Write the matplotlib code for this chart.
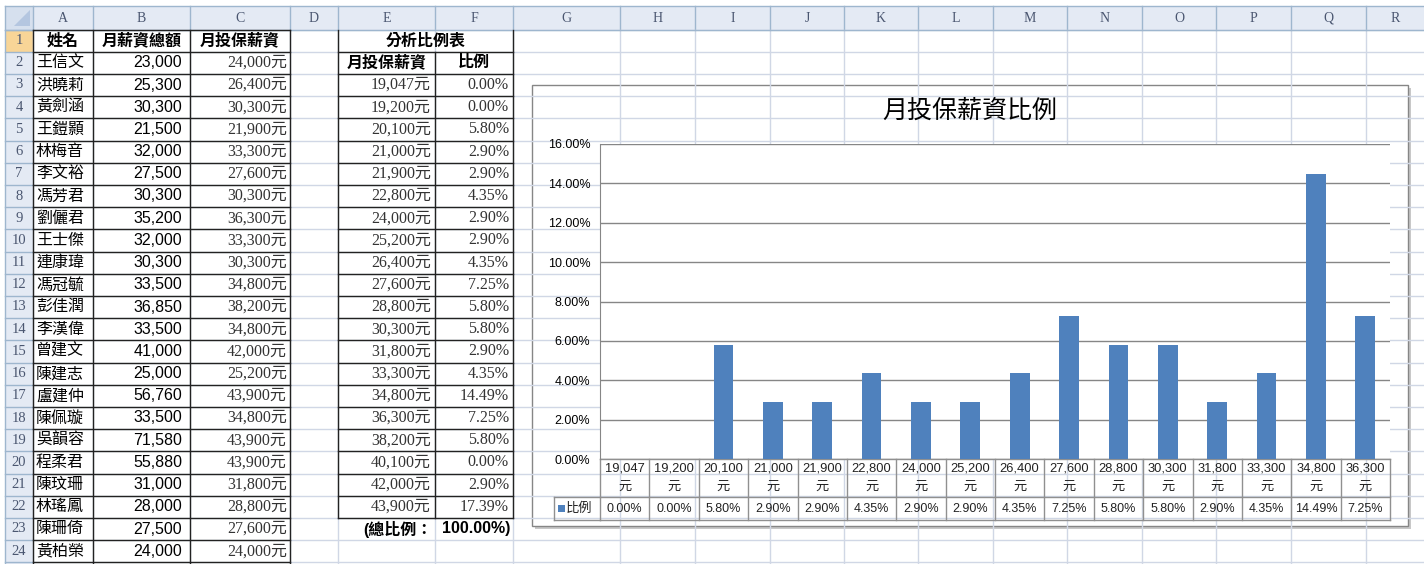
import matplotlib.pyplot as plt
import matplotlib.transforms as mtransforms
from matplotlib.patches import Rectangle, Polygon

plt.rcParams['font.family'] = ['Liberation Sans', 'Noto Sans CJK TC']

# 左邊資料表 (A:C)
names = ['王信文', '洪曉莉', '黃劍涵', '王鎧顥', '林梅音', '李文裕', '馮芳君', '劉儷君',
         '王士傑', '連康瑋', '馮冠毓', '彭佳潤', '李漢偉', '曾建文', '陳建志', '盧建仲',
         '陳佩璇', '吳韻容', '程柔君', '陳玟珊', '林瑤鳳', '陳珊倚', '黃柏榮']
total_pay = [23000, 25300, 30300, 21500, 32000, 27500, 30300, 35200, 32000, 30300, 33500,
             36850, 33500, 41000, 25000, 56760, 33500, 71580, 55880, 31000, 28000, 27500, 24000]
insured_pay = [24000, 26400, 30300, 21900, 33300, 27600, 30300, 36300, 33300, 30300, 34800,
               38200, 34800, 42000, 25200, 43900, 34800, 43900, 43900, 31800, 28800, 27600, 24000]

# 分析比例表 (E:F)
levels = [19047, 19200, 20100, 21000, 21900, 22800, 24000, 25200, 26400, 27600,
          28800, 30300, 31800, 33300, 34800, 36300, 38200, 40100, 42000, 43900]
ratios = [0.00, 0.00, 5.80, 2.90, 2.90, 4.35, 2.90, 2.90, 4.35, 7.25,
          5.80, 5.80, 2.90, 4.35, 14.49, 7.25, 5.80, 0.00, 2.90, 17.39]
total_ratio = 100.00

# 圖表只用前 16 級
chart_levels = levels[:16]
chart_ratios = ratios[:16]

col_letters = list('ABCDEFGHIJKLMNOPQR')
col_edges = [33, 93, 190, 290, 338, 435, 513, 620, 695, 770, 844, 918, 993,
             1067, 1142, 1216, 1291, 1366, 1440]

W, H = 1424, 564
ROW_H = 22.2
TOP = 29.5


def row_top(r):
    return TOP + (r - 1) * ROW_H


def row_mid(r):
    return row_top(r) + ROW_H / 2


fig = plt.figure(figsize=(W / 100, H / 100), dpi=100)
bg = fig.add_axes([0, 0, 1, 1])
bg.set_xlim(0, W)
bg.set_ylim(H, 0)
bg.axis('off')

# 欄列標題底色
hdr_c = '#E4EAF4'
bg.add_patch(Rectangle((5, 6), W, TOP - 6, fc=hdr_c, ec='none'))
bg.add_patch(Rectangle((5, TOP), 28, H, fc=hdr_c, ec='none'))
bg.add_patch(Rectangle((5, row_top(1)), 28, ROW_H, fc='#F8D597', ec='none'))
bg.add_patch(Rectangle((5, 6), 28, TOP - 6, fc='#D6E0EE', ec='none'))
bg.add_patch(Polygon([(30, 10), (30, 26), (14, 26)], fc='#B4C6E0', ec='none'))

# 格線
grid_c = '#D0D7E5'
for x in col_edges:
    bg.plot([x, x], [TOP, H], color=grid_c, lw=1)
    bg.plot([x, x], [6, TOP], color='#9EB6CE', lw=1)
for r in range(1, 26):
    y = row_top(r)
    bg.plot([33, W], [y, y], color=grid_c, lw=1)
    bg.plot([5, 33], [y, y], color='#9EB6CE', lw=1)
bg.plot([5, W], [TOP, TOP], color='#9EB6CE', lw=1)
bg.plot([5, W], [6, 6], color='#9EB6CE', lw=1)
bg.plot([5, 5], [6, H], color='#9EB6CE', lw=1)

for i, letter in enumerate(col_letters):
    xc = (col_edges[i] + min(col_edges[i + 1], W)) / 2
    bg.text(xc, 18, letter, ha='center', va='center', fontsize=10,
            family='Liberation Serif', color='#4A5670')
for r in range(1, 25):
    bg.text(19, row_mid(r), str(r), ha='center', va='center', fontsize=10.5,
            family='Liberation Serif', color='#4A5670')

# A:C 表格內容
bold = dict(fontsize=11.5, fontweight='bold', ha='center', va='center')
bg.text(63, row_mid(1), '姓名', **bold)
bg.text(141.5, row_mid(1), '月薪資總額', **bold)
bg.text(240, row_mid(1), '月投保薪資', **bold)
serif = ['Liberation Serif', 'Noto Sans CJK TC']
for k, (nm, tp, ip) in enumerate(zip(names, total_pay, insured_pay)):
    r = k + 2
    bg.text(36, row_mid(r), nm, ha='left', va='center', fontsize=11.5)
    bg.text(182, row_mid(r), f'{tp:,}', ha='right', va='center', fontsize=11.5)
    bg.text(287, row_mid(r), f'{ip:,}元', ha='right', va='center', fontsize=11.5,
            family=serif, color='#333333')

# E:F 表格內容
bg.text(425.5, row_mid(1), '分析比例表', **bold)
bg.text(386.5, row_mid(2), '月投保薪資', **bold)
bg.text(474, row_mid(2), '比例', **bold)
for k, (lv, rt) in enumerate(zip(levels, ratios)):
    r = k + 3
    bg.text(431, row_mid(r), f'{lv:,}元', ha='right', va='center', fontsize=11.5,
            family=serif, color='#333333')
    bg.text(509, row_mid(r), f'{rt:.2f}%', ha='right', va='center', fontsize=11.5,
            family=serif, color='#333333')
bg.text(433, row_mid(23), '(總比例：', ha='right', va='center', fontsize=11.5,
        fontweight='bold')
bg.text(510, row_mid(23), f'{total_ratio:.2f}%)', ha='right', va='center',
        fontsize=11.5, fontweight='bold')

# 表格框線
bc = '#222222'
for r in range(1, 26):
    bg.plot([33, 290], [row_top(r), row_top(r)], color=bc, lw=1)
for x in [33, 93, 190, 290]:
    bg.plot([x, x], [row_top(1), H], color=bc, lw=1)
for r in range(2, 24):
    bg.plot([338, 513], [row_top(r), row_top(r)], color=bc, lw=1)
for x in [338, 513]:
    bg.plot([x, x], [row_top(1), row_top(23)], color=bc, lw=1)
bg.plot([435, 435], [row_top(2), row_top(23)], color=bc, lw=1)

# 圖表外框
bg.add_patch(Rectangle((535, 88), 876, 441, fc='#C8C8C8', ec='none'))
bg.add_patch(Rectangle((532, 85), 876, 441, fc='white', ec='#868686', lw=1))

fig.text(970 / W, 1 - 111 / H, '月投保薪資比例', ha='center', va='center', fontsize=18)

ax = fig.add_axes([600 / W, 1 - 459 / H, 790 / W, 315 / H])
ax.set_facecolor('white')
xs = range(len(chart_levels))
ax.bar(xs, chart_ratios, width=0.4, color='#4F81BD', zorder=3)
ax.set_xlim(-0.5, len(chart_levels) - 0.5)
ax.set_ylim(0, 16)
ax.set_yticks(range(0, 17, 2))
ax.set_yticklabels([f'{v:.2f}%' for v in range(0, 17, 2)])
ax.yaxis.grid(True, color='#868686', lw=1)
ax.set_axisbelow(True)
ax.set_xticks([])
for s in ['top', 'right', 'bottom']:
    ax.spines[s].set_visible(False)
ax.spines['left'].set_color('#868686')
ax.tick_params(axis='y', length=0, pad=7, labelsize=9)

# 圖表下方的資料表
tr = mtransforms.blended_transform_factory(ax.transData, ax.transAxes)
r1 = 38 / 315
r2 = 61 / 315
n = len(chart_levels)
tc = '#909090'
for y in [0, -r1, -r2]:
    ax.plot([-0.5, n - 0.5], [y, y], transform=tr, color=tc, lw=1, clip_on=False)
for k in range(n + 1):
    ax.plot([k - 0.5, k - 0.5], [0, -r2], transform=tr, color=tc, lw=1, clip_on=False)
x_leg = -46 / 790
ax.plot([x_leg, x_leg], [-r1, -r2], transform=ax.transAxes, color=tc, lw=1, clip_on=False)
for y in [-r1, -r2]:
    ax.plot([x_leg, 0], [y, y], transform=ax.transAxes, color=tc, lw=1, clip_on=False)
for i, (lv, rt) in enumerate(zip(chart_levels, chart_ratios)):
    ax.text(i, -9.5 / 315, f'{lv:,}', transform=tr, ha='center', va='center',
            fontsize=9.3, color='#222222')
    ax.text(i, -27.5 / 315, '元', transform=tr, ha='center', va='center',
            fontsize=9.5, color='#222222')
    ax.text(i, -(r1 + r2) / 2, f'{rt:.2f}%', transform=tr, ha='center', va='center',
            fontsize=9, color='#222222')
ax.add_patch(Rectangle((x_leg + 4 / 790, -(r1 + r2) / 2 - 3.5 / 315), 7 / 790, 7 / 315,
                       transform=ax.transAxes, clip_on=False, fc='#4F81BD', ec='none'))
ax.text(x_leg + 12 / 790, -(r1 + r2) / 2, '比例', transform=ax.transAxes,
        ha='left', va='center', fontsize=9.5, color='#222222')

fig.savefig('out.png', dpi=100)
